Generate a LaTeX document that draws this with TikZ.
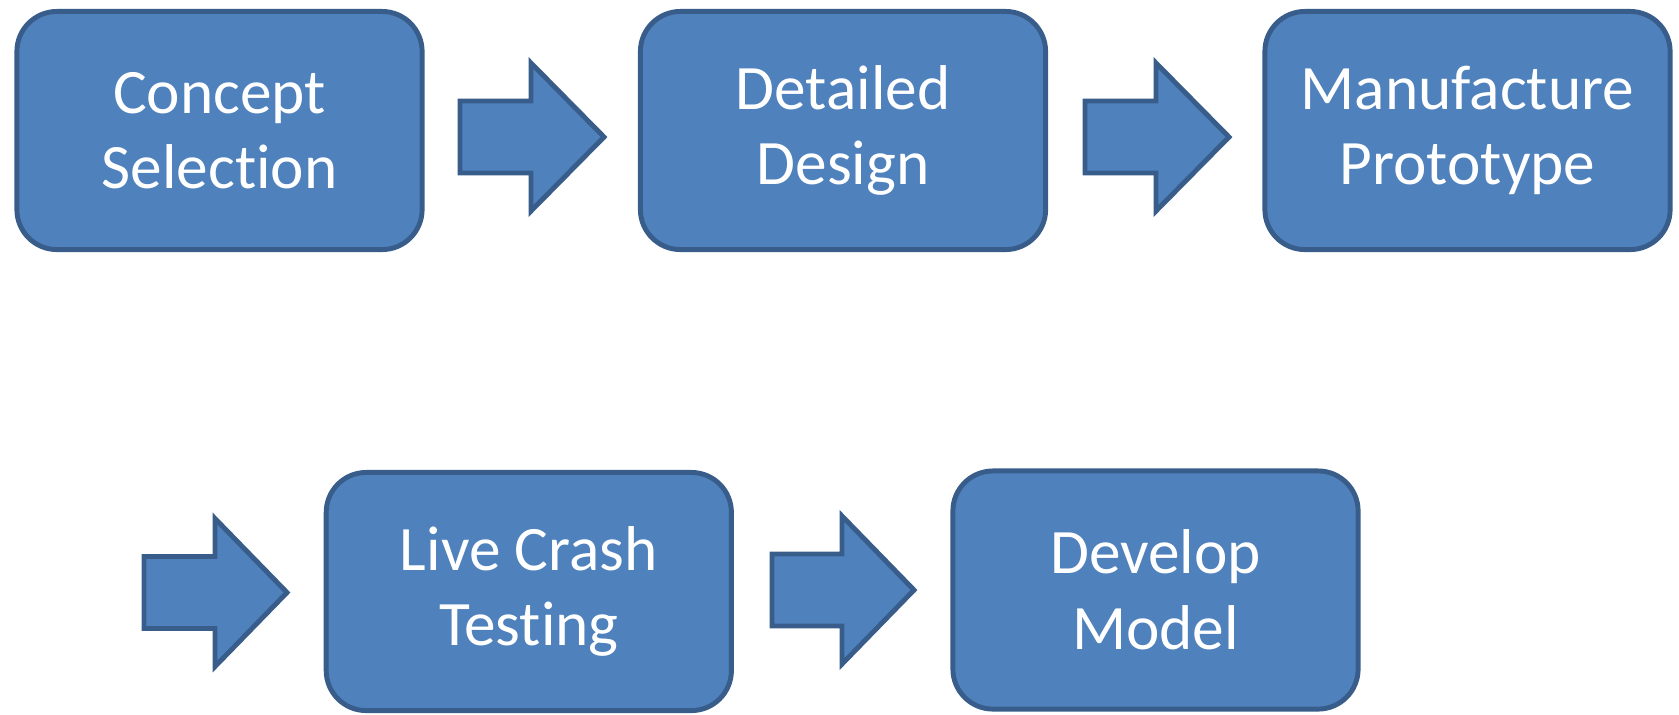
\documentclass[tikz,border=0pt]{standalone}
\usepackage{fontspec}
\setmainfont{Carlito}[Ligatures=NoCommon]
\definecolor{stagefill}{HTML}{4F81BD}
\definecolor{stageline}{HTML}{385D8A}

\begin{document}
\begin{tikzpicture}[
    x=0.01cm, y=-0.01cm,
    stage/.style={draw=stageline, fill=stagefill, line width=1.4pt, rectangle, rounded corners=0.4cm,
        minimum width=4.05cm, minimum height=2.38cm, align=center, text=white,
        font=\fontsize{18}{21.5}\selectfont},
    blockarrow/.style={draw=stageline, fill=stagefill, line width=1.4pt, line join=miter},
]
\useasboundingbox (0,0) rectangle (1679,714);

% Top row
\node[stage] (concept) at (219.5,130.5) {Concept\\Selection};
\node[stage] (design) at (843,130.5) {Detailed\\Design};
\node[stage] (prototype) at (1467.5,130.5) {Manufacture\\Prototype};

% Bottom row
\node[stage] (crash) at (528.8,591.5) {Live Crash\\Testing};
\node[stage] (model) at (1155.5,590) {Develop\\Model};

% Block arrows
\draw[blockarrow] (460,101) -- (531,101) -- (531,63) -- (604,137) -- (531,211) -- (531,173) -- (460,173) -- cycle;
\draw[blockarrow] (1085,101) -- (1156,101) -- (1156,63) -- (1229,137) -- (1156,211) -- (1156,173) -- (1085,173) -- cycle;
\draw[blockarrow] (144,556.5) -- (215,556.5) -- (215,518.5) -- (287,592.5) -- (215,666.5) -- (215,628.5) -- (144,628.5) -- cycle;
\draw[blockarrow] (772,554) -- (842,554) -- (842,516) -- (914,590) -- (842,664) -- (842,626) -- (772,626) -- cycle;

\end{tikzpicture}
\end{document}
